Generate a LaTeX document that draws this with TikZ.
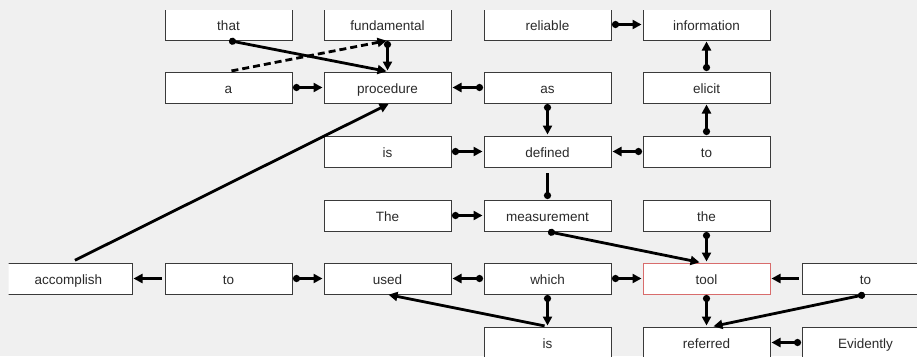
\documentclass[tikz,border=0pt]{standalone}
\usepackage{fontspec}
\setmainfont{Liberation Sans}
\usetikzlibrary{arrows.meta}
\definecolor{panel}{HTML}{F0F0F0}
\definecolor{edge}{HTML}{3A3A3A}
\definecolor{ink}{HTML}{2A2A2A}
\definecolor{focus}{HTML}{D86C6C}
\begin{document}
\begin{tikzpicture}[x=1pt,y=-1pt,
  word/.style={draw=edge, line width=1pt, fill=white, rectangle,
    minimum width=127pt, minimum height=31pt, inner sep=0pt,
    text height=13pt, text depth=1pt,
    font=\fontsize{13.5}{15}\selectfont, text=ink},
  picked/.style={word, draw=focus},
  link/.style={line width=2.8pt, -{Triangle[length=9pt,width=9pt]}, shorten >=1pt},
  dotlink/.style={link, {Circle[length=7pt]}-{Triangle[length=9pt,width=9pt]}, shorten <=0.5pt},
  freelink/.style={link, shorten <=3pt},
  dashlink/.style={freelink, dashed, dash pattern=on 7pt off 4pt},
  dotonly/.style={line width=2.8pt, {Circle[length=7pt]}-, shorten <=0.5pt, shorten >=5pt}]
\useasboundingbox (0,0) rectangle (917,356);
\fill[panel] (0,0) rectangle (917,356);
\begin{scope}
\clip (8.5,10.5) rectangle (917,356);
% row 0
\node[word] (that)        at (228.5,24.5) {that};
\node[word] (fundamental) at (387.5,24.5) {fundamental};
\node[word] (reliable)    at (547.5,24.5) {reliable};
\node[word] (information) at (706.5,24.5) {information};
% row 1
\node[word] (a)         at (228.5,87.5) {a};
\node[word] (procedure) at (387.5,87.5) {procedure};
\node[word] (as)        at (547.5,87.5) {as};
\node[word] (elicit)    at (706.5,87.5) {elicit};
% row 2
\node[word] (isA)     at (387.5,151.5) {is};
\node[word] (defined) at (547.5,151.5) {defined};
\node[word] (toC)     at (706.5,151.5) {to};
% row 3
\node[word] (The)         at (387.5,215.5) {The};
\node[word] (measurement) at (547.5,215.5) {measurement};
\node[word] (the)         at (706.5,215.5) {the};
% row 4
\node[word] (accomplish) at (68.5,278.5) {accomplish};
\node[word] (toA)        at (228.5,278.5) {to};
\node[word] (used)       at (387.5,278.5) {used};
\node[word] (which)      at (547.5,278.5) {which};
\node[picked] (tool)     at (706.5,278.5) {tool};
\node[word] (toB)        at (865.5,278.5) {to};
% row 5
\node[word] (isB)       at (547.5,342.5) {is};
\node[word] (referred)  at (706.5,342.5) {referred};
\node[word] (Evidently) at (865.5,342.5) {Evidently};

% connectors
\draw[dotlink] (that.south) -- (procedure.north);
\draw[dashlink] (a.north) -- (fundamental.south);
\draw[dotlink] (fundamental.south) -- (procedure.north);
\draw[dotlink] (reliable.east) -- (information.west);
\draw[dotlink] (elicit.north) -- (information.south);
\draw[dotlink] (toC.north) -- (elicit.south);
\draw[dotlink] (a.east) -- (procedure.west);
\draw[dotlink] (as.west) -- (procedure.east);
\draw[dotlink] (as.south) -- (defined.north);
\draw[dotlink] (isA.east) -- (defined.west);
\draw[dotlink] (toC.west) -- (defined.east);
\draw[dotonly] (measurement.north) -- (defined.south);
\draw[dotlink] (The.east) -- (measurement.west);
\draw[dotlink] (measurement.south) -- ([xshift=-6pt]tool.north);
\draw[dotlink] (the.south) -- (tool.north);
\draw[freelink] (toA.west) -- (accomplish.east);
\draw[dotlink] (toA.east) -- (used.west);
\draw[dotlink] (which.west) -- (used.east);
\draw[dotlink] (which.east) -- (tool.west);
\draw[freelink] (toB.west) -- (tool.east);
\draw[dotlink] (tool.south) -- (referred.north);
\draw[dotlink] (toB.south) -- ([xshift=6pt]referred.north);
\draw[dotlink] (which.south) -- (isB.north);
\draw[freelink] (isB.north) -- (used.south);
\draw[dotlink] (Evidently.west) -- (referred.east);
\draw[link, shorten <=5pt] ([xshift=2pt]accomplish.north) -- ([xshift=2pt]procedure.south);
\end{scope}
\end{tikzpicture}
\end{document}
